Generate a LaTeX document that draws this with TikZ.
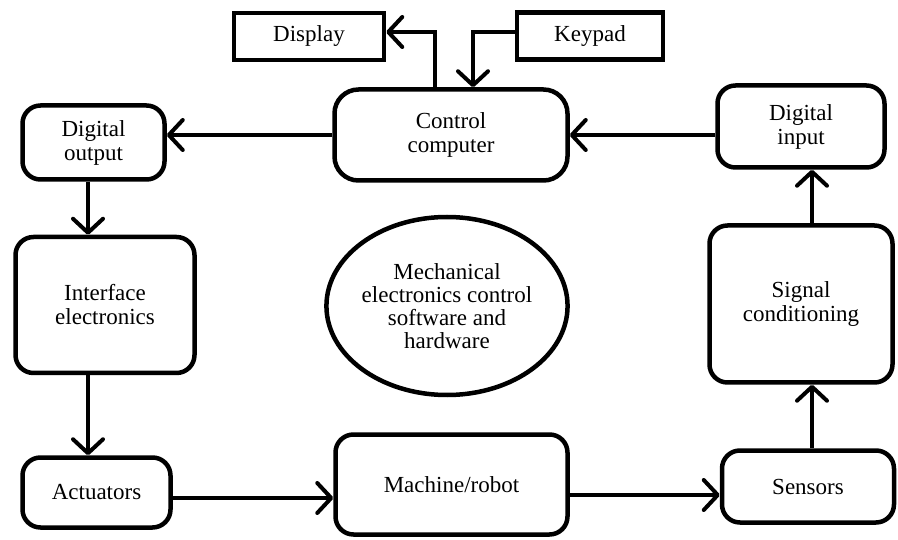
\documentclass[tikz,border=0pt]{standalone}
\usepackage{fontspec}
\setmainfont{Liberation Serif}
\usetikzlibrary{arrows.meta,shapes.geometric}
\begin{document}
\begin{tikzpicture}[x=1pt,y=-1pt,
  box/.style={draw,line width=4.5pt,rounded corners=18pt,align=center,inner sep=0pt,
    font=\fontsize{23}{24}\selectfont},
  sqbox/.style={draw,line width=4.5pt,align=center,inner sep=0pt,
    font=\fontsize{23}{24}\selectfont},
  conn/.style={line width=4pt,-{Straight Barb[length=14pt,width=30pt,line width=4pt,round]}}]
\useasboundingbox (0,0) rectangle (898,540);
\node[sqbox,minimum width=150pt,minimum height=47pt] (disp) at (309,36.5) {Display};
\node[sqbox,minimum width=146pt,minimum height=47pt] (key) at (590,36) {Keypad};
\node[box,rounded corners=24pt,minimum width=233pt,minimum height=91pt] (ctrl) at (451,135) {Control\\computer};
\node[box,minimum width=142pt,minimum height=74pt] (dout) at (93.5,142.5) {Digital\\output};
\node[box,minimum width=179pt,minimum height=136pt] (intf) at (105,305) {Interface\\electronics};
\node[box,minimum width=148pt,minimum height=70pt] (act) at (96.5,492.5) {Actuators};
\node[box,minimum width=232pt,minimum height=100pt] (mach) at (451.5,484.5) {Machine/robot};
\node[box,minimum width=172pt,minimum height=72pt] (sens) at (808,486.5) {Sensors};
\node[box,minimum width=183pt,minimum height=157pt] (sig) at (801,304) {Signal\\conditioning};
\node[box,minimum width=167pt,minimum height=82pt] (din) at (801,126.5) {Digital\\input};
\node[draw,ellipse,line width=4.5pt,minimum width=232pt,minimum height=178pt,inner sep=0pt,align=center,
  font=\fontsize{23}{23}\selectfont] (ell) at (447,306) {Mechanical\\electronics control\\software and\\hardware};
\coordinate (c1) at (435,32);
\coordinate (c2) at (473,32);
\draw[conn] (ctrl.north -| c1) -- (c1) -- (c1 -| disp.east);
\draw[conn] (key.west |- c2) -- (c2) -- (c2 |- ctrl.north);
\draw[conn] (ctrl.west) -- (ctrl.west -| dout.east);
\draw[conn] (din.west |- ctrl.east) -- (ctrl.east);
\coordinate (xl) at (88,0);
\coordinate (xr) at (812,0);
\draw[conn] (dout.south -| xl) -- (intf.north -| xl);
\draw[conn] (intf.south -| xl) -- (act.north -| xl);
\coordinate (y1) at (0,498);
\coordinate (y2) at (0,495);
\draw[conn] (act.east |- y1) -- (mach.west |- y1);
\draw[conn] (mach.east |- y2) -- (sens.west |- y2);
\draw[conn] (sens.north -| xr) -- (sig.south -| xr);
\draw[conn] (sig.north -| xr) -- (din.south -| xr);
\end{tikzpicture}
\end{document}
